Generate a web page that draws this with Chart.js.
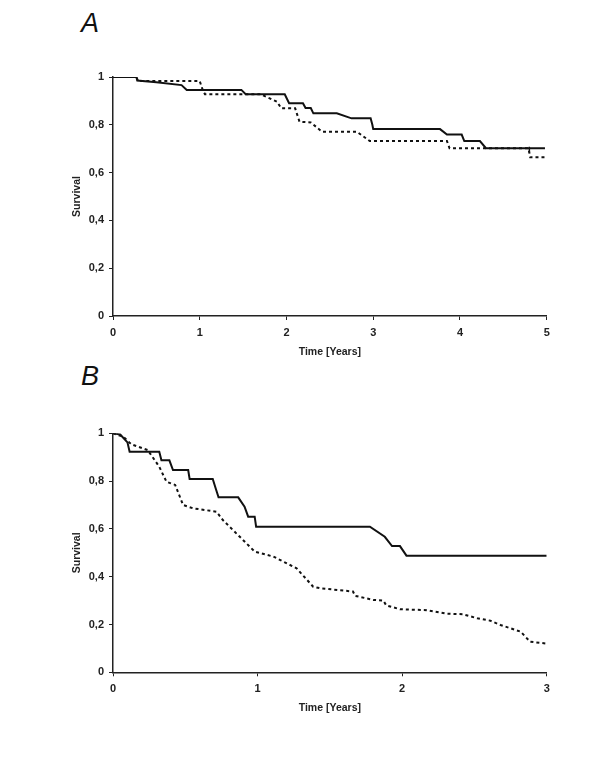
<!DOCTYPE html>
<html>
<head>
<meta charset="utf-8">
<script src="https://cdn.jsdelivr.net/npm/chart.js@4.4.0/dist/chart.umd.min.js"></script>
<style>
  html, body { margin: 0; padding: 0; background: #fff; }
  body { width: 600px; height: 776px; position: relative; overflow: hidden; }
  .panel { position: absolute; left: 0; width: 600px; }
  .lbl { position: absolute; font-family: "Liberation Sans", Arial, sans-serif; font-style: italic;
         font-size: 27px; line-height: 27px; color: #111; }
</style>
</head>
<body>
<div class="lbl" style="left:81px; top:10px;">A</div>
<div class="lbl" style="left:81px; top:363px;">B</div>
<div class="panel" style="top:0; height:380px;"><canvas id="cA"></canvas></div>
<div class="panel" style="top:356px; height:420px;"><canvas id="cB"></canvas></div>
<script>
// ---------- Panel A (time in years, survival) ----------
const aXTicks = [0, 1, 2, 3, 4, 5];
const aYTicks = [0, 0.2, 0.4, 0.6, 0.8, 1];
const aSolidT = [0, 0.27, 0.28, 0.5, 0.79, 0.85, 1.48, 1.53, 1.98, 2.03, 2.19, 2.22, 2.28, 2.31, 2.58, 2.75, 2.97, 2.99, 3.0, 3.77, 3.85, 4.02, 4.05, 4.23, 4.3, 4.98];
const aSolidS = [1, 1, 0.985, 0.978, 0.966, 0.946, 0.946, 0.928, 0.928, 0.89, 0.89, 0.87, 0.87, 0.848, 0.848, 0.827, 0.827, 0.80, 0.782, 0.782, 0.759, 0.759, 0.732, 0.732, 0.702, 0.702];
const aDashT = [0, 0.27, 0.29, 1.0, 1.03, 1.06, 1.70, 1.89, 1.94, 2.10, 2.15, 2.28, 2.41, 2.81, 2.96, 3.85, 3.88, 4.79, 4.81, 4.98];
const aDashS = [1, 1, 0.983, 0.983, 0.95, 0.928, 0.928, 0.897, 0.869, 0.869, 0.813, 0.81, 0.771, 0.771, 0.732, 0.732, 0.702, 0.702, 0.664, 0.664];
const aCensorT = [4.8];
const aCensorS = [0.696];

// ---------- Panel B ----------
const bXTicks = [0, 1, 2, 3];
const bYTicks = [0, 0.2, 0.4, 0.6, 0.8, 1];
const bSolidT = [0, 0.05, 0.10, 0.115, 0.32, 0.335, 0.39, 0.415, 0.52, 0.53, 0.69, 0.71, 0.73, 0.866, 0.91, 0.935, 0.98, 0.99, 1.777, 1.88, 1.93, 1.985, 2.03, 3.0];
const bSolidS = [1, 0.995, 0.962, 0.923, 0.923, 0.887, 0.887, 0.846, 0.846, 0.809, 0.809, 0.77, 0.732, 0.732, 0.693, 0.651, 0.651, 0.609, 0.609, 0.567, 0.528, 0.528, 0.488, 0.488];
const bDashT = [0, 0.07, 0.127, 0.24, 0.32, 0.37, 0.43, 0.485, 0.554, 0.716, 0.76, 0.877, 0.98, 1.11, 1.27, 1.385, 1.43, 1.66, 1.675, 1.80, 1.87, 1.89, 1.985, 2.17, 2.31, 2.42, 2.52, 2.61, 2.68, 2.82, 2.885, 3.0];
const bDashS = [1, 0.986, 0.954, 0.93, 0.86, 0.797, 0.784, 0.70, 0.686, 0.672, 0.637, 0.567, 0.505, 0.484, 0.435, 0.358, 0.352, 0.338, 0.32, 0.303, 0.30, 0.28, 0.264, 0.26, 0.245, 0.243, 0.226, 0.216, 0.198, 0.17, 0.128, 0.12];

const pts = (t, s) => t.map((v, i) => ({ x: v, y: s[i] }));
const fmt = v => String(Math.round(v * 10) / 10).replace('.', ',');
const FONT = "'Liberation Sans', Arial, sans-serif";
const tickFont = { family: FONT, size: 11, weight: 'bold' };

function makeChart(id, xTicks, yTicks, datasets, padBottom, padTop) {
  const xMax = xTicks[xTicks.length - 1];
  return new Chart(document.getElementById(id), {
    type: 'line',
    data: { datasets },
    options: {
      responsive: true,
      maintainAspectRatio: false,
      animation: false,
      events: [],
      layout: { padding: { left: 71, right: 53.3, top: padTop, bottom: padBottom } },
      plugins: { legend: { display: false }, tooltip: { enabled: false } },
      elements: { point: { radius: 0 }, line: { tension: 0 } },
      scales: {
        x: {
          type: 'linear', min: 0, max: xMax,
          afterBuildTicks: s => { s.ticks = xTicks.map(v => ({ value: v })); },
          afterFit: s => { s.height = 42; },
          ticks: { font: tickFont, color: '#222', padding: 6, maxRotation: 0, callback: v => String(v) },
          grid: { display: true, drawOnChartArea: false, drawTicks: true, tickLength: 4, color: '#222', lineWidth: 1 },
          border: { display: true, color: '#222', width: 1.5 },
          title: { display: true, text: 'Time [Years]', font: { family: FONT, size: 10.5, weight: 'bold' }, color: '#222', padding: 0 }
        },
        y: {
          type: 'linear', min: 0, max: 1,
          afterBuildTicks: s => { s.ticks = yTicks.map(v => ({ value: v })); },
          afterFit: s => { s.width = 42; },
          ticks: { font: tickFont, color: '#222', padding: 5, callback: v => fmt(v) },
          grid: { display: true, drawOnChartArea: false, drawTicks: true, tickLength: 4, color: '#222', lineWidth: 1 },
          border: { display: true, color: '#222', width: 1.5 },
          title: { display: true, text: 'Survival', font: { family: FONT, size: 10.5, weight: 'bold' }, color: '#222', padding: 0 }
        }
      }
    }
  });
}

const solidStyle = { borderColor: '#111', borderWidth: 2, fill: false, pointRadius: 0 };
const dashStyle = { borderColor: '#111', borderWidth: 2, borderDash: [3, 3], fill: false, pointRadius: 0 };

makeChart('cA', aXTicks, aYTicks, [
  Object.assign({ label: 'Group 1', data: pts(aSolidT, aSolidS) }, solidStyle),
  Object.assign({ label: 'Group 2', data: pts(aDashT, aDashS) }, dashStyle),
  { label: 'Censored', data: pts(aCensorT, aCensorS), showLine: false, pointStyle: 'line', rotation: 90,
    pointRadius: 3, pointBorderColor: '#111', pointBorderWidth: 1.5, borderColor: '#111' }
], 22, 77);

makeChart('cB', bXTicks, bYTicks, [
  Object.assign({ label: 'Group 1', data: pts(bSolidT, bSolidS) }, solidStyle),
  Object.assign({ label: 'Group 2', data: pts(bDashT, bDashS) }, dashStyle)
], 61.7, 77.3);
</script>
</body>
</html>
